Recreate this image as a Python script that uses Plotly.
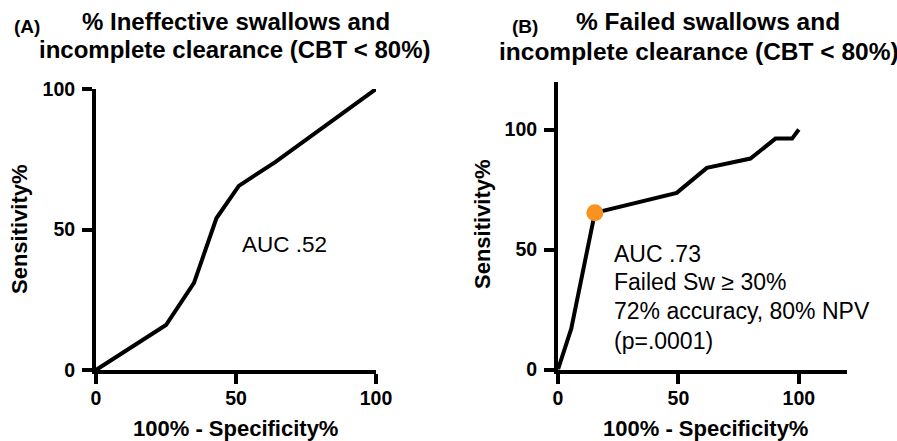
import plotly.graph_objects as go

# ---- data ----
a_fpr = [0, 25, 35, 43, 51, 64, 100]
a_tpr = [0, 16, 31, 54, 65.5, 74, 100]

b_fpr = [0, 5.5, 15.3, 49.3, 61.8, 79.9, 90.3, 97.2, 100]
b_tpr = [0, 17, 65.3, 73.6, 84, 87.9, 96.2, 96.2, 100]

cut_fpr = [15.3]
cut_tpr = [65.3]

tick_vals = [0, 50, 100]
tick_text = ["0", "50", "100"]

W, H = 897, 441
def px(x):
    return x / W
def py(y):
    return 1 - y / H

FONT = "Liberation Sans, Arial, Helvetica, sans-serif"

fig = go.Figure()
fig.add_trace(go.Scatter(x=a_fpr, y=a_tpr, mode="lines",
                         line=dict(color="black", width=4),
                         xaxis="x", yaxis="y", showlegend=False, hoverinfo="skip"))
fig.add_trace(go.Scatter(x=b_fpr, y=b_tpr, mode="lines",
                         line=dict(color="black", width=4),
                         xaxis="x2", yaxis="y2", showlegend=False, hoverinfo="skip"))
fig.add_trace(go.Scatter(x=cut_fpr, y=cut_tpr, mode="markers",
                         marker=dict(color="#F7931E", size=17, line=dict(width=0)),
                         xaxis="x2", yaxis="y2", showlegend=False, cliponaxis=False,
                         hoverinfo="skip"))

axis_common = dict(showline=True, linecolor="black", linewidth=4,
                   ticks="outside", ticklen=10, tickwidth=4, tickcolor="black",
                   showgrid=False, zeroline=False, automargin=False,
                   tickvals=tick_vals, ticktext=tick_text,
                   tickfont=dict(family=FONT, size=19.5, color="black", weight="bold"),
                   fixedrange=True)

fig.update_layout(
    width=W, height=H,
    margin=dict(l=0, r=0, t=0, b=0, autoexpand=False),
    paper_bgcolor="white", plot_bgcolor="white",
    xaxis=dict(domain=[px(96), px(376)], range=[0, 100], anchor="y",
               ticklabelstandoff=-2, **axis_common),
    yaxis=dict(domain=[py(370), py(89)], range=[0, 100], anchor="x",
               ticklabelstandoff=3, **axis_common),
    xaxis2=dict(domain=[px(558), px(847)], range=[0, 120], anchor="y2",
                ticklabelstandoff=-2, **axis_common),
    yaxis2=dict(domain=[py(369.5), py(81.5)], range=[0, 120], anchor="x2",
                ticklabelstandoff=3, **axis_common),
)

ann = []
def add(text, x, y, size, bold=False, xanchor="center", yanchor="middle", angle=0):
    ann.append(dict(text=text, x=px(x), y=py(y), xref="paper", yref="paper",
                    showarrow=False, xanchor=xanchor, yanchor=yanchor, textangle=angle,
                    font=dict(family=FONT, size=size, color="black",
                              weight="bold" if bold else "normal")))

# titles
add("(A)", 12, 27, 19, bold=True, xanchor="left")
add("% Ineffective swallows and", 236, 22, 24, bold=True)
add("incomplete clearance (CBT < 80%)", 234, 50, 24, bold=True)
add("(B)", 510, 27, 19, bold=True, xanchor="left")
add("% Failed swallows and", 708, 22, 24.5, bold=True)
add("incomplete clearance (CBT < 80%)", 497, 51, 24.5, bold=True, xanchor="left")

# axis titles
add("Sensitivity%", 20, 229, 22, bold=True, angle=-90)
add("100% - Specificity%", 236, 428, 22, bold=True)
add("Sensitivity%", 482, 224, 22, bold=True, angle=-90)
add("100% - Specificity%", 705, 428, 22, bold=True)

# in-plot annotations
add("AUC .52", 240, 244, 22.5, xanchor="left")
add("AUC .73", 612, 254, 23, xanchor="left")
add("Failed Sw ≥ 30%", 612, 282, 23, xanchor="left")
add("72% accuracy, 80% NPV", 612, 311, 23, xanchor="left")
add("(p=.0001)", 612, 341, 23, xanchor="left")

fig.update_layout(annotations=ann)
fig.write_html("out.html")
